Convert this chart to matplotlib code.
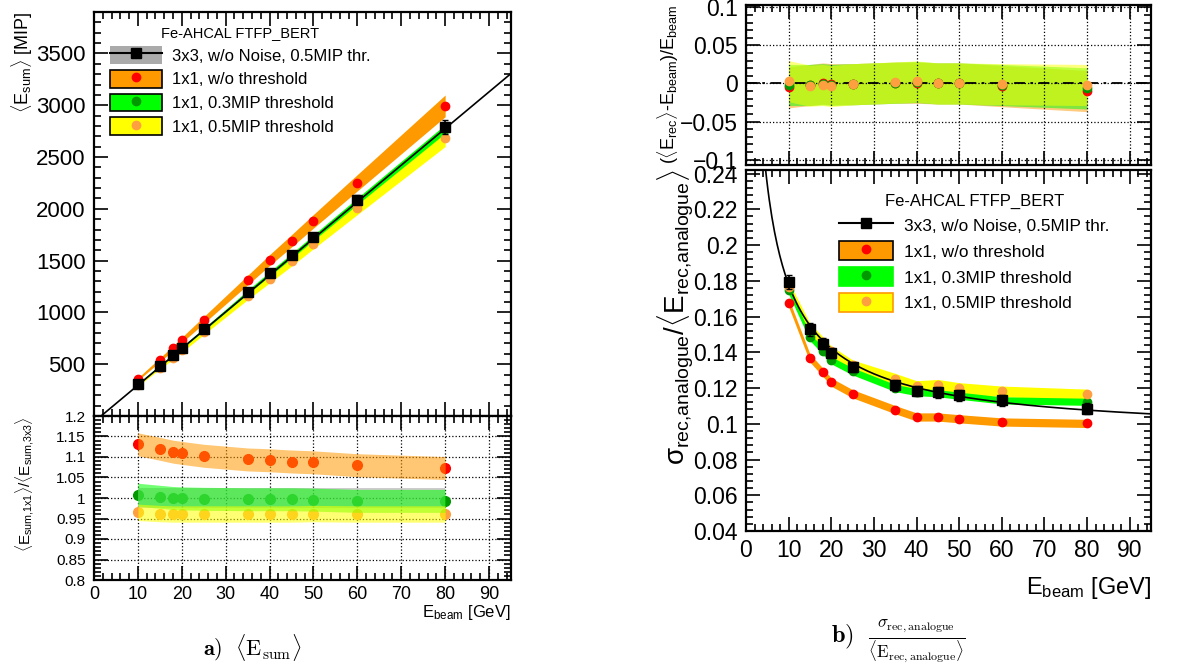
import matplotlib
matplotlib.use("Agg")
import matplotlib.pyplot as plt
import numpy as np
from matplotlib.patches import Patch
from matplotlib.lines import Line2D
from matplotlib.legend_handler import HandlerTuple
from matplotlib.ticker import MultipleLocator, FuncFormatter

plt.rcParams['font.family'] = ['Liberation Sans', 'DejaVu Sans']
plt.rcParams['mathtext.fontset'] = 'custom'
plt.rcParams['mathtext.rm'] = 'Liberation Sans'
plt.rcParams['mathtext.it'] = 'Liberation Sans:italic'
plt.rcParams['mathtext.bf'] = 'Liberation Sans:bold'
plt.rcParams['axes.unicode_minus'] = True

# ---- data ----
energies = [10, 15, 18, 20, 25, 35, 40, 45, 50, 60, 80]     # GeV

# <E_sum> [MIP]
esum_3x3 = [308, 484, 590, 661, 837, 1200, 1376, 1550, 1729, 2089, 2791]
esum_3x3_err = [12, 14, 16, 18, 20, 25, 28, 30, 35, 40, 70]
esum_nothr = [356, 542, 654, 734, 927, 1312, 1505, 1691, 1880, 2252, 2994]
esum_03 = [310, 486, 590, 660, 835, 1196, 1372, 1545, 1722, 2074, 2772]
esum_05 = [298, 468, 564, 635, 811, 1158, 1325, 1492, 1665, 2005, 2682]

# ratio 1x1 / 3x3
ratio_nothr = [1.131, 1.120, 1.113, 1.110, 1.103, 1.094, 1.092, 1.089, 1.087, 1.080, 1.073]
ratio_03 = [1.008, 1.003, 1.000, 0.999, 0.998, 0.997, 0.997, 0.997, 0.996, 0.993, 0.993]
ratio_05 = [0.965, 0.962, 0.961, 0.961, 0.961, 0.961, 0.961, 0.961, 0.962, 0.961, 0.961]

# linearity (<E_rec> - E_beam) / E_beam
lin_nothr = [-0.005, -0.002, 0.000, -0.001, -0.001, 0.001, 0.001, 0.000, 0.000, -0.0035, -0.010]
lin_03 = [-0.002, -0.002, -0.001, -0.002, -0.001, 0.001, 0.002, 0.000, 0.000, -0.002, -0.0065]
lin_05 = [0.003, -0.003, -0.002, -0.0035, -0.001, 0.0013, 0.0026, 0.000, 0.000, -0.001, -0.002]

# resolution sigma / <E>
res_3x3 = [0.1793, 0.1528, 0.1448, 0.1396, 0.1317, 0.1215, 0.1183, 0.1177, 0.1159, 0.1131, 0.1084]
res_3x3_err = [0.004, 0.0035, 0.003, 0.003, 0.003, 0.003, 0.003, 0.003, 0.003, 0.003, 0.003]
res_nothr = [0.1678, 0.1368, 0.1289, 0.1233, 0.1168, 0.1079, 0.1038, 0.1038, 0.1028, 0.1010, 0.1002]
res_03 = [0.1747, 0.1485, 0.1410, 0.1355, 0.1293, 0.1200, 0.1177, 0.1171, 0.1157, 0.1131, 0.1123]
res_05 = [0.1765, 0.1532, 0.1457, 0.1405, 0.1327, 0.1252, 0.1211, 0.1218, 0.1200, 0.1181, 0.1164]

# systematic band half widths
sys_esum = {'nothr': 0.035, '03': 0.015, '05': 0.03}
sys_ratio = {'3x3': 0.025, 'nothr': 0.028, '03': 0.028, '05': 0.02}
sys_lin = 0.027
sys_res = {'nothr': 0.0023, '03': 0.002, '05': 0.003}

# fits
lin_fit_slope, lin_fit_offset = 35.4, -57.0
res_fit_a, res_fit_b = 0.479, 0.0934

labels = ['3x3, w/o Noise, 0.5MIP thr.', '1x1, w/o threshold',
          '1x1, 0.3MIP threshold', '1x1, 0.5MIP threshold']

ORANGE, GREEN, YELLOW = '#ff9900', '#00ff00', '#ffff00'
RED, DKGREEN, LTORANGE = '#ff0000', '#009900', '#ffa040'

E = np.array(energies)
W, H = 1186, 668


def px_axes(x0, y0, x1, y1):
    return fig.add_axes([x0 / W, 1 - y1 / H, (x1 - x0) / W, (y1 - y0) / H])


def root_style(ax, xmaj, xmin, ymaj, ymin):
    ax.xaxis.set_major_locator(MultipleLocator(xmaj))
    ax.xaxis.set_minor_locator(MultipleLocator(xmin))
    ax.yaxis.set_major_locator(MultipleLocator(ymaj))
    ax.yaxis.set_minor_locator(MultipleLocator(ymin))
    ax.tick_params(which='both', direction='in', top=True, right=True, width=1.2)
    ax.tick_params(which='major', length=10)
    ax.tick_params(which='minor', length=5)
    for s in ax.spines.values():
        s.set_linewidth(1.6)


fmt_g = FuncFormatter(lambda v, p: ('%g' % round(v, 6)).replace('-', '\u2212'))

fig = plt.figure(figsize=(W / 100, H / 100), dpi=100)

# ---------- a) top: <E_sum> ----------
ax1 = px_axes(94, 12, 511, 416)
root_style(ax1, 10, 2, 500, 100)
for vals, key, col in [(esum_nothr, 'nothr', ORANGE), (esum_05, '05', YELLOW), (esum_03, '03', GREEN)]:
    v = np.array(vals)
    ax1.fill_between(E, v * (1 - sys_esum[key]), v * (1 + sys_esum[key]), color=col, lw=0, zorder=2)
xf = np.linspace(0, 95, 200)
ax1.plot(xf, lin_fit_slope * xf + lin_fit_offset, color='k', lw=1.2, zorder=3)
ax1.plot(E, esum_nothr, 'o', color=RED, ms=6, zorder=4)
ax1.plot(E, esum_03, 'o', color=DKGREEN, ms=6, zorder=4)
ax1.plot(E, esum_05, 'o', color=LTORANGE, ms=6, zorder=4)
ax1.errorbar(E, esum_3x3, yerr=esum_3x3_err, fmt='s', color='k', ms=7, lw=1.2, capsize=2, zorder=5)
ax1.set_xlim(0, 95)
ax1.set_ylim(0, 3900)
ax1.set_yticks([500, 1000, 1500, 2000, 2500, 3000, 3500])
ax1.tick_params(axis='x', labelbottom=False)
ax1.tick_params(axis='y', labelsize=16, pad=6)

handles_a = [
    (Patch(facecolor='#aaaaaa', edgecolor='none'), Line2D([], [], color='k', marker='s', ms=7, lw=1.5)),
    (Patch(facecolor=ORANGE, edgecolor='k', lw=1.2), Line2D([], [], ls='none', marker='o', color=RED, ms=6)),
    (Patch(facecolor=GREEN, edgecolor='k', lw=1.2), Line2D([], [], ls='none', marker='o', color=DKGREEN, ms=6)),
    (Patch(facecolor=YELLOW, edgecolor='k', lw=1.2), Line2D([], [], ls='none', marker='o', color=LTORANGE, ms=6)),
]
ax1.legend(handles_a, labels, handler_map={tuple: HandlerTuple(ndivide=1)},
           loc='upper left', bbox_to_anchor=(0.038, 0.965), frameon=False,
           title='Fe-AHCAL FTFP_BERT', title_fontsize=10.5, fontsize=12,
           handlelength=3.1, handleheight=1.28, labelspacing=0.35,
           handletextpad=0.6, borderpad=0, borderaxespad=0)

# ---------- a) bottom: ratio ----------
ax2 = px_axes(94, 416, 511, 580)
root_style(ax2, 10, 2, 0.05, 0.01)
ax2.grid(True, which='major', ls=':', color='k', lw=0.9, zorder=0)
ax2.plot(E, ratio_nothr, 'o', color=RED, ms=7, zorder=2)
ax2.plot(E, ratio_03, 'o', color=DKGREEN, ms=7, zorder=2)
ax2.plot(E, ratio_05, 'o', color=LTORANGE, ms=7, zorder=2)
ax2.fill_between(E, 1 - sys_ratio['3x3'], 1 + sys_ratio['3x3'], color='#aaaaaa', alpha=0.6, lw=0, zorder=3)
for vals, key, col in [(ratio_nothr, 'nothr', ORANGE), (ratio_03, '03', GREEN), (ratio_05, '05', YELLOW)]:
    v = np.array(vals)
    ax2.fill_between(E, v - sys_ratio[key], v + sys_ratio[key], color=col, alpha=0.55, lw=0, zorder=3)
ax2.set_xlim(0, 95)
ax2.set_ylim(0.8, 1.2)
ax2.yaxis.set_major_formatter(fmt_g)
ax2.tick_params(axis='y', labelsize=11, pad=6)
ax2.tick_params(axis='x', labelsize=13, pad=4)

# ---------- b) top: linearity ----------
ax3 = px_axes(746, 5, 1151, 165)
root_style(ax3, 10, 2, 0.05, 0.01)
ax3.grid(True, which='major', ls=':', color='k', lw=0.9, zorder=0)
for vals, col in [(lin_nothr, ORANGE), (lin_03, GREEN), (lin_05, YELLOW)]:
    v = np.array(vals)
    ax3.fill_between(E, v - sys_lin, v + sys_lin, color=col, alpha=0.5, lw=0, zorder=1)
ax3.axhline(0, color='k', ls=(0, (6, 3, 1.5, 3)), lw=1.3, zorder=2)
ax3.plot(E, lin_nothr, 'o', color=RED, ms=6, zorder=3)
ax3.plot(E, lin_03, 'o', color=DKGREEN, ms=6, zorder=3)
ax3.plot(E, lin_05, 'o', color=LTORANGE, ms=6, zorder=4)
ax3.set_xlim(0, 95)
ax3.set_ylim(-0.107, 0.103)
ax3.yaxis.set_major_formatter(fmt_g)
ax3.tick_params(axis='x', labelbottom=False)
ax3.tick_params(axis='y', labelsize=16.5, pad=6)

# ---------- b) bottom: resolution ----------
ax4 = px_axes(746, 170, 1151, 531)
root_style(ax4, 10, 2, 0.02, 0.004)
for vals, key, col in [(res_05, '05', YELLOW), (res_03, '03', GREEN), (res_nothr, 'nothr', ORANGE)]:
    v = np.array(vals)
    ax4.fill_between(E, v - sys_res[key], v + sys_res[key], color=col, lw=0, zorder=1)
ef = np.linspace(3, 95, 300)
ax4.plot(ef, np.sqrt(res_fit_a ** 2 / ef + res_fit_b ** 2), color='k', lw=1.2, zorder=2)
ax4.plot(E, res_nothr, 'o', color=RED, ms=6, zorder=3)
ax4.plot(E, res_03, 'o', color=DKGREEN, ms=6, zorder=3)
ax4.plot(E, res_05, 'o', color=LTORANGE, ms=6, zorder=3)
ax4.errorbar(E, res_3x3, yerr=res_3x3_err, fmt='s', color='k', ms=7, lw=1.2, capsize=2, zorder=4)
ax4.set_xlim(0, 95)
ax4.set_ylim(0.04, 0.242)
ax4.yaxis.set_major_formatter(fmt_g)
ax4.tick_params(axis='both', labelsize=16.5, pad=6)

handles_b = [
    Line2D([], [], color='k', marker='s', ms=7, lw=1.5),
    (Patch(facecolor=ORANGE, edgecolor='k', lw=1.2), Line2D([], [], ls='none', marker='o', color=RED, ms=6)),
    (Patch(facecolor=GREEN, edgecolor=GREEN, lw=1.2), Line2D([], [], ls='none', marker='o', color=DKGREEN, ms=6)),
    (Patch(facecolor=YELLOW, edgecolor=ORANGE, lw=1.2), Line2D([], [], ls='none', marker='o', color=LTORANGE, ms=6)),
]
ax4.legend(handles_b, labels, handler_map={tuple: HandlerTuple(ndivide=1)},
           loc='upper left', bbox_to_anchor=(0.23, 0.935), frameon=False,
           title='Fe-AHCAL FTFP_BERT', title_fontsize=12, fontsize=12.4,
           handlelength=3.1, handleheight=1.32, labelspacing=0.4,
           handletextpad=0.65, borderpad=0, borderaxespad=0)

# ---------- axis titles ----------
fig.text(22 / W, 1 - 12 / H, r'$\langle$E$_{\mathrm{sum}}$$\rangle$ [MIP]',
         rotation=90, ha='center', va='top', fontsize=13)
fig.text(25 / W, 1 - 416 / H,
         r'$\langle$E$_{\mathrm{sum{,}1x1}}$$\rangle$/$\langle$E$_{\mathrm{sum{,}3x3}}$$\rangle$',
         rotation=90, ha='center', va='top', fontsize=11)
fig.text(511 / W, 1 - 603 / H, r'E$_{\mathrm{beam}}$ [GeV]', ha='right', va='top', fontsize=12)
fig.text(668 / W, 1 - 5 / H, r'($\langle$E$_{\mathrm{rec}}$$\rangle$-E$_{\mathrm{beam}}$)/E$_{\mathrm{beam}}$',
         rotation=90, ha='center', va='top', fontsize=13)
fig.text(676 / W, 1 - 170 / H,
         r'σ$_{\mathrm{rec{,}analogue}}$/$\langle$E$_{\mathrm{rec{,}analogue}}$$\rangle$',
         rotation=90, ha='center', va='top', fontsize=20)
fig.text(1151 / W, 1 - 588 / H, r'E$_{\mathrm{beam}}$ [GeV]', ha='right', va='center', fontsize=17)

# ---------- captions ----------
fig.text(252 / W, 1 - 648 / H, r'$\mathbf{a)}\ \ \langle\mathrm{E}_{\mathrm{sum}}\rangle$',
         ha='center', va='center', fontsize=16, math_fontfamily='cm')
fig.text(898 / W, 1 - 642 / H,
         r'$\mathbf{b)}\ \ \frac{\sigma_{\mathrm{rec,analogue}}}{\langle\mathrm{E}_{\mathrm{rec,analogue}}\rangle}$',
         ha='center', va='center', fontsize=17.5, math_fontfamily='cm')

fig.savefig('out.png', dpi=100)
